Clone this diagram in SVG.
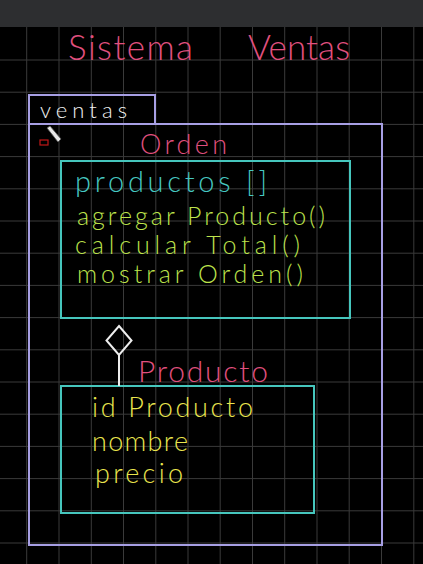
<svg xmlns="http://www.w3.org/2000/svg" width="423" height="564" viewBox="0 0 423 564">
<style>
.grid{stroke:#3a3a3a;stroke-width:1}
.frame{fill:none;stroke:#a79fe4;stroke-width:2}
.box{fill:none;stroke:#46c6bd;stroke-width:2}
.t{font-family:Lato,"Open Sans","Liberation Sans",sans-serif;font-weight:300}
.pink{fill:#e0507f}
.cyan{fill:#46c8c2}
.green{fill:#bde34c}
.yellow{fill:#eae64e}
.white{fill:#f2f2f2}
.conn{fill:none;stroke:#eeeeee;stroke-width:2}
</style>
<rect x="0" y="0" width="423" height="564" fill="#000"/>
<rect x="0" y="0" width="423" height="27" fill="#2d2e30"/>
<g id="grid">
<path class="grid" d="M26.7 27V564M59 27V564M91.3 27V564M123.5 27V564M155.8 27V564M188 27V564M220.2 27V564M252.5 27V564M284.7 27V564M317 27V564M349.2 27V564M381.5 27V564M413.8 27V564M0 60H423M0 92.2H423M0 124.4H423M0 156.6H423M0 188.8H423M0 221H423M0 253.2H423M0 285.4H423M0 317.6H423M0 349.8H423M0 382H423M0 414.2H423M0 446.4H423M0 478.6H423M0 510.8H423M0 543H423"/>
</g>
<g id="title">
<text class="t pink" x="68" y="60" font-size="35" textLength="125" lengthAdjust="spacing">Sistema</text>
<text class="t pink" x="248" y="60" font-size="35" textLength="102" lengthAdjust="spacing">Ventas</text>
</g>
<g id="package-ventas">
<rect class="frame" x="29" y="95" width="126" height="29"/>
<rect class="frame" x="29" y="124" width="353" height="421"/>
<text class="t white" x="40" y="118" font-size="22" textLength="87" lengthAdjust="spacing">ventas</text>
</g>
<g id="cursor">
<rect x="40" y="140" width="8" height="5" fill="none" stroke="#c01818" stroke-width="1.2"/>
<path d="M47 128 L50 126 L61 139 L58 142 Z" fill="#e8e8e8" stroke="#555" stroke-width="0.8"/>
</g>
<g id="class-orden">
<text class="t pink" x="140" y="154" font-size="27" textLength="87" lengthAdjust="spacing">Orden</text>
<rect class="box" x="61" y="161" width="289" height="157"/>
<text class="t cyan" x="75" y="192" font-size="29" textLength="192" lengthAdjust="spacing">productos []</text>
<text class="t green" x="77" y="225" font-size="25" textLength="248" lengthAdjust="spacing">agregar Producto()</text>
<text class="t green" x="75" y="254" font-size="25" textLength="225" lengthAdjust="spacing">calcular Total()</text>
<text class="t green" x="77" y="283" font-size="25" textLength="226" lengthAdjust="spacing">mostrar Orden()</text>
</g>
<g id="class-producto">
<text class="t pink" x="138" y="382" font-size="30" textLength="130" lengthAdjust="spacing">Producto</text>
<rect class="box" x="61" y="386" width="253" height="127"/>
<text class="t yellow" x="92" y="417" font-size="27" textLength="161" lengthAdjust="spacing">id Producto</text>
<text class="t yellow" x="92" y="451" font-size="27" textLength="96" lengthAdjust="spacing">nombre</text>
<text class="t yellow" x="95" y="483" font-size="27" textLength="88" lengthAdjust="spacing">precio</text>
</g>
<g id="connectors">
<path class="conn" d="M119 326 L131.5 340.5 L119 355 L106.5 340.5 Z"/>
<path class="conn" d="M119 355 V386"/>
</g>
</svg>
